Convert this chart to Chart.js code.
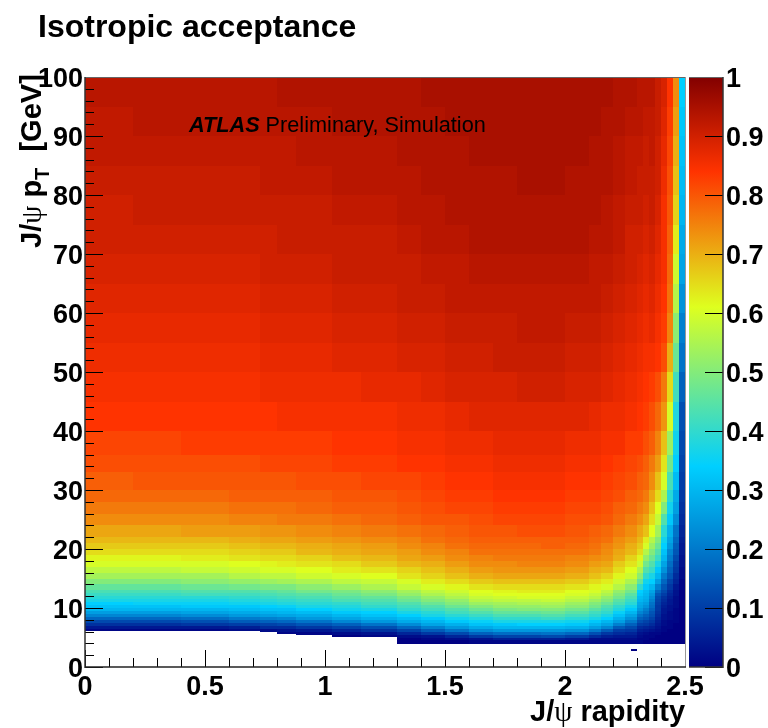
<!DOCTYPE html>
<html><head><meta charset="utf-8">
<style>html,body{margin:0;padding:0;background:#fff}canvas{display:block}</style>
<script src="https://cdn.jsdelivr.net/npm/chart.js@4"></script>
</head><body><canvas id="c" width="768" height="728"></canvas>
<script>
// rapidity bin edges
const rapidityEdges=[0,.2,.4,.6,.73,.8,.88,1.03,1.15,1.3,1.4,1.5,1.6,1.7,1.8,1.9,2,2.1,2.15,2.2,2.25,2.3,2.325,2.35,2.375,2.4,2.425,2.45,2.475,2.5];
// pT bin edges (GeV)
const ptEdges=[3.9,4.5,5,5.5,6,6.5,7,7.5,8,8.5,9,9.5,10,10.5,11,11.5,12,12.5,13,14,15,16,17,18,19,20,21,22,24,26,28,30,33,36,40,45,50,55,60,65,70,75,80,85,90,95,100];
// lowest populated pT in each rapidity bin
const ptFloor=[6.1,6.1,6.1,6.1,5.93,5.6,5.42,5.08,5.08,3.9,3.9,3.9,3.9,3.9,3.9,3.9,3.9,3.9,3.9,3.9,3.9,3.9,3.9,3.9,3.9,3.9,3.9,3.9,3.9];
// acceptance (percent) per rapidity bin, low pT to high pT
const acceptance=[
[0,0,0,0,1,4,8,12,17,22,26,30,32,34,37,39,41,43,46,50,54,57,60,62,65,67,69,71,74,76,78,79,81,82,84,85,86,87,88,89,90,90,91,92,92,93],
[0,0,0,0,1,4,8,12,17,22,26,30,32,35,37,39,41,43,46,50,54,57,60,62,65,67,69,71,74,76,78,80,81,82,84,85,86,87,88,89,90,91,91,92,93,93],
[0,0,0,0,1,4,9,13,18,23,27,30,33,35,37,39,42,44,47,51,54,58,60,63,65,67,69,72,74,76,78,80,81,83,84,85,86,87,88,89,90,91,91,92,93,93],
[0,0,0,0,2,5,10,15,20,25,28,31,33,36,38,40,42,44,48,52,56,59,61,64,66,68,70,72,75,77,79,80,81,83,84,85,86,87,88,89,90,91,91,92,93,93],
[0,0,0,1,2,7,11,16,21,26,29,32,34,37,39,41,43,45,49,53,57,60,62,65,67,69,71,73,75,77,79,80,82,83,84,86,87,88,89,90,90,91,92,92,93,93],
[0,0,0,1,3,7,12,17,22,27,30,32,35,38,40,42,44,46,49,54,57,60,63,65,67,69,71,73,76,77,79,80,82,83,85,86,87,88,89,90,91,91,92,92,93,94],
[0,0,0,1,4,9,14,19,25,28,31,34,37,39,41,43,45,48,51,55,59,61,64,66,69,70,72,74,76,78,79,81,82,83,85,86,87,88,89,90,91,91,92,93,93,94],
[0,0,0,2,6,11,16,22,27,30,33,36,38,40,43,45,47,49,53,57,60,63,65,68,70,71,73,75,77,79,80,81,83,84,85,86,88,89,90,91,91,92,93,93,94,94],
[0,0,1,3,8,13,19,25,29,32,34,37,40,42,44,46,49,51,55,58,61,64,67,69,71,72,74,76,78,79,80,82,83,84,85,87,88,89,90,91,91,92,93,93,94,94],
[0,0,2,6,11,17,23,28,31,34,37,40,42,44,47,49,52,54,58,60,64,66,69,71,72,74,75,77,79,80,81,82,84,85,86,87,89,90,91,91,92,93,93,94,94,94],
[0,1,3,9,15,21,27,30,33,37,39,42,44,47,50,52,55,57,60,63,66,68,70,72,74,75,77,78,80,81,82,83,84,85,86,88,89,90,91,92,93,93,94,94,94,95],
[0,2,6,12,19,25,29,33,36,39,42,44,47,50,52,55,57,59,62,65,68,70,72,74,75,77,78,79,80,82,83,84,85,86,87,89,90,91,92,92,93,94,94,94,95,95],
[1,3,9,16,23,28,32,35,38,41,44,47,50,53,56,58,60,61,64,67,70,72,74,75,77,78,79,80,81,82,83,84,85,86,88,89,90,91,92,93,94,94,94,95,95,95],
[1,5,11,18,25,30,33,37,40,43,46,49,52,54,57,59,61,62,65,68,71,73,74,76,77,78,79,80,82,83,84,85,86,87,88,89,91,91,92,93,94,94,94,95,95,95],
[1,5,11,18,25,30,34,37,40,43,46,50,52,55,57,60,61,63,65,68,71,73,75,76,77,78,79,81,82,83,84,85,86,87,88,90,91,92,92,93,94,94,95,95,95,95],
[1,5,12,19,25,30,34,37,41,44,47,50,53,55,58,60,61,63,65,68,71,73,75,76,77,79,79,81,82,83,84,85,86,87,88,90,91,92,92,93,94,94,95,95,95,95],
[1,4,10,17,24,29,33,36,39,42,45,48,51,53,56,58,60,61,64,67,70,72,74,75,77,78,79,80,81,82,83,84,85,86,88,89,90,91,92,93,94,94,94,95,95,95],
[1,2,7,13,20,26,30,33,37,40,42,45,48,50,53,56,58,60,62,65,68,70,72,74,76,77,78,79,81,82,83,84,85,86,87,89,90,91,92,92,93,94,94,94,95,95],
[1,2,5,9,15,22,27,30,34,37,40,42,44,47,50,52,55,57,60,63,66,69,71,73,74,75,77,78,80,81,82,83,84,85,86,88,89,90,91,92,93,93,94,94,94,95],
[1,2,4,7,10,15,21,26,29,32,35,38,40,43,45,48,50,52,56,59,62,65,67,70,71,73,74,76,78,79,81,82,83,85,86,87,88,89,90,91,92,92,93,93,94,94],
[1,2,4,6,9,12,16,20,24,27,30,33,36,39,41,43,45,48,51,55,59,61,64,66,69,70,72,74,76,78,79,81,82,83,85,86,87,88,89,90,90,91,92,92,93,94],
[1,1,2,3,5,7,10,13,16,19,22,25,27,28,30,31,33,34,40,46,51,55,59,62,65,67,69,71,74,76,78,79,81,83,84,85,86,87,88,89,90,91,91,92,93,93],
[0,1,1,2,4,6,9,11,14,16,19,21,24,26,28,29,30,31,33,36,40,44,48,52,56,60,63,68,71,74,76,78,79,81,83,84,85,86,87,88,89,90,91,91,92,93],
[0,0,1,1,3,5,7,9,11,13,14,16,18,19,21,23,25,27,30,34,37,41,44,47,50,53,56,61,65,68,71,74,76,79,81,83,85,87,88,89,90,91,91,92,92,93],
[0,0,0,1,2,3,4,5,6,7,8,9,9,10,11,12,14,17,21,26,30,33,37,41,44,47,50,54,58,61,65,68,72,75,78,81,84,85,86,87,88,89,90,90,91,91],
[0,0,0,0,1,1,2,2,3,3,4,4,5,6,7,8,10,12,14,17,20,24,27,30,32,34,36,39,44,50,55,60,64,68,73,76,81,83,84,85,85,85,86,87,88,89],
[0,0,0,0,0,1,1,1,2,2,2,3,3,4,4,5,6,7,9,11,14,16,18,20,22,25,27,29,33,36,39,43,48,53,60,65,70,75,77,78,79,80,81,82,83,84],
[0,0,0,0,0,0,0,1,1,1,1,1,2,2,2,2,3,3,4,6,7,9,10,12,14,15,17,19,23,26,28,31,34,36,38,42,47,51,56,59,63,66,68,70,72,74],
[0,0,0,0,0,0,0,0,0,0,0,0,0,0,0,0,0,0,1,1,2,2,3,3,4,4,5,6,7,8,9,10,11,12,13,16,19,21,24,27,28,30,31,32,33,34]
];
// the lone populated bin below the main region: [rapidity low, rapidity high, pT low, pT high, percent]
const strayBin=[2.275,2.3,2.7,3.0,0];
const rapidityTicksMinorStep=0.1, ptTicksMinorStep=2;
// colour palette
const palStops=[0,.34,.61,.84,1];
const palR=[0,0,.87,1,.51], palG=[0,.81,1,.2,0], palB=[.51,1,.12,0,0];
const BOLD='bold 29px "Liberation Sans"', PSI='29px "Liberation Serif"';

function palette(v){
  let i=0; while(i<palStops.length-2&&v>palStops[i+1])i++;
  const t=(v-palStops[i])/(palStops[i+1]-palStops[i]);
  const m=a=>Math.round(255*(a[i]+(a[i+1]-a[i])*t));
  return `rgb(${m(palR)},${m(palG)},${m(palB)})`;
}
const cells=[];
acceptance.forEach((col,c)=>col.forEach((p,r)=>{
  const lo=Math.max(ptEdges[r],ptFloor[c]),hi=ptEdges[r+1];
  if(hi>lo)cells.push({x:rapidityEdges[c],x2:rapidityEdges[c+1],y:lo,y2:hi,v:p/100});
}));
cells.push({x:strayBin[0],x2:strayBin[1],y:strayBin[2],y2:strayBin[3],v:strayBin[4]/100});

class HeatCell extends Chart.Element{
  draw(ctx){ctx.fillStyle=this.color;ctx.fillRect(this.left,this.top,this.w,this.h);}
}
HeatCell.id='heatCell';HeatCell.defaults={};
class HeatController extends Chart.DatasetController{
  update(){const m=this._cachedMeta;this.updateElements(m.data,0,m.data.length);}
  updateElements(els,start,count){
    const {xScale,yScale}=this._cachedMeta,data=this.getDataset().data;
    for(let i=start;i<start+count;i++){
      const d=data[i];
      const l=Math.round(xScale.getPixelForValue(d.x)),r=Math.round(xScale.getPixelForValue(d.x2));
      const t=Math.round(yScale.getPixelForValue(d.y2)),b=Math.round(yScale.getPixelForValue(d.y));
      Object.assign(els[i],{x:l,y:t,left:l,top:t,w:r-l,h:b-t,color:palette(d.v)});
    }
  }
}
HeatController.id='heat';HeatController.defaults={dataElementType:'heatCell'};
Chart.register(HeatCell,HeatController);

function runs(ctx,x,y,list){
  let pos=0;
  list.forEach(([s,font,off])=>{ctx.font=font;ctx.fillText(s,x+pos,y+(off||0));pos+=ctx.measureText(s).width;});
}
function seg(ctx,x1,y1,x2,y2,color,w){ctx.strokeStyle=color;ctx.lineWidth=w;ctx.beginPath();ctx.moveTo(x1,y1);ctx.lineTo(x2,y2);ctx.stroke();}
const overlay={id:'overlay',
  beforeDatasetsDraw(ch){
    const {ctx,scales:{y2}}=ch;
    const g=ctx.createLinearGradient(0,y2.getPixelForValue(0),0,y2.getPixelForValue(1));
    palStops.forEach(s=>g.addColorStop(s,palette(s)));
    ctx.save();ctx.fillStyle=g;
    ctx.fillRect(689,y2.getPixelForValue(1),34,y2.getPixelForValue(0)-y2.getPixelForValue(1));
    ctx.restore();
  },
  afterDraw(ch){
    const {ctx,chartArea:a,scales:{x,y,y2}}=ch;
    ctx.save();ctx.strokeStyle='#000';ctx.lineWidth=1;
    ctx.beginPath();
    for(let i=0;i<=Math.round(x.max/rapidityTicksMinorStep);i++){
      const px=Math.round(x.getPixelForValue(i*rapidityTicksMinorStep))+.5;
      ctx.moveTo(px,a.bottom);ctx.lineTo(px,a.bottom-(i%5===0?17:9));
    }
    for(let i=0;i<=Math.round(y.max/ptTicksMinorStep);i++){
      const py=Math.round(y.getPixelForValue(i*ptTicksMinorStep))+.5;
      ctx.moveTo(a.left,py);ctx.lineTo(a.left+(i%5===0?18:9),py);
    }
    y2.ticks.forEach(t=>{const py=Math.round(y2.getPixelForValue(t.value))+.5;ctx.moveTo(723,py);ctx.lineTo(705,py);});
    ctx.stroke();
    // frames
    seg(ctx,a.left,a.top+.5,a.right,a.top+.5,'#666',1);
    seg(ctx,a.right+.5,a.top,a.right+.5,a.bottom,'#999',1);
    seg(ctx,a.left,a.top,a.left,a.bottom+1,'#333',1.5);
    seg(ctx,a.left,a.bottom,a.right+1,a.bottom,'#222',1.5);
    seg(ctx,689,a.top+.5,723,a.top+.5,'#666',1);
    seg(ctx,723,a.top,723,a.bottom+1,'#333',1.5);
    seg(ctx,689,a.bottom,723,a.bottom,'#333',1.5);
    ctx.restore();
    ctx.save();ctx.fillStyle='#000';ctx.textBaseline='alphabetic';ctx.textAlign='left';
    ctx.font='bold 32px "Liberation Sans"';ctx.fillText('Isotropic acceptance',38,37);
    runs(ctx,530,721,[['J/',BOLD],['\u03c8',PSI],[' rapidity',BOLD]]);
    runs(ctx,x.getPixelForValue(.433),y.getPixelForValue(90.7),[['ATLAS','italic bold 21.7px "Liberation Sans"'],[' Preliminary, Simulation','21.7px "Liberation Sans"']]);
    ctx.translate(41,248);ctx.rotate(-Math.PI/2);
    runs(ctx,0,0,[['J/',BOLD],['\u03c8',PSI],[' p',BOLD],['T','bold 20px "Liberation Sans"',8],['  [GeV]',BOLD]]);
    ctx.restore();
  }
};
const tickFont={family:'"Liberation Sans"',size:27,weight:'bold'};
// blank first line plus a small line height nudges the label just below its tick
const yTickFont={...tickFont,lineHeight:'6px'}, cTickFont={...tickFont,lineHeight:'5px'};
new Chart(document.getElementById('c'),{
  type:'heat',
  data:{datasets:[{data:cells}]},
  plugins:[overlay],
  options:{
    responsive:false,animation:false,events:[],
    layout:{padding:{top:77,left:0,right:0,bottom:0}},
    plugins:{legend:{display:false},tooltip:{enabled:false},title:{display:false}},
    scales:{
      x:{type:'linear',position:'bottom',min:0,max:2.5,grid:{display:false,drawTicks:false},border:{display:false},
         ticks:{stepSize:.5,padding:4,maxRotation:0,color:'#000',font:tickFont,callback:v=>String(v)},
         afterFit(s){s.height=61;}},
      y:{type:'linear',position:'left',min:0,max:100,grid:{display:false,drawTicks:false},border:{display:false},
         ticks:{stepSize:10,padding:2,color:'#000',font:yTickFont,autoSkip:false,callback:v=>['',String(v)]},
         afterFit(s){s.width=85;}},
      y2:{type:'linear',position:'right',min:0,max:1,grid:{display:false,drawTicks:false},border:{display:false},
         ticks:{stepSize:.1,padding:41,color:'#000',font:cTickFont,autoSkip:false,callback:v=>['',String(Math.round(v*10)/10)]},
         afterFit(s){s.width=83;}}
    }
  }
});
</script></body></html>
